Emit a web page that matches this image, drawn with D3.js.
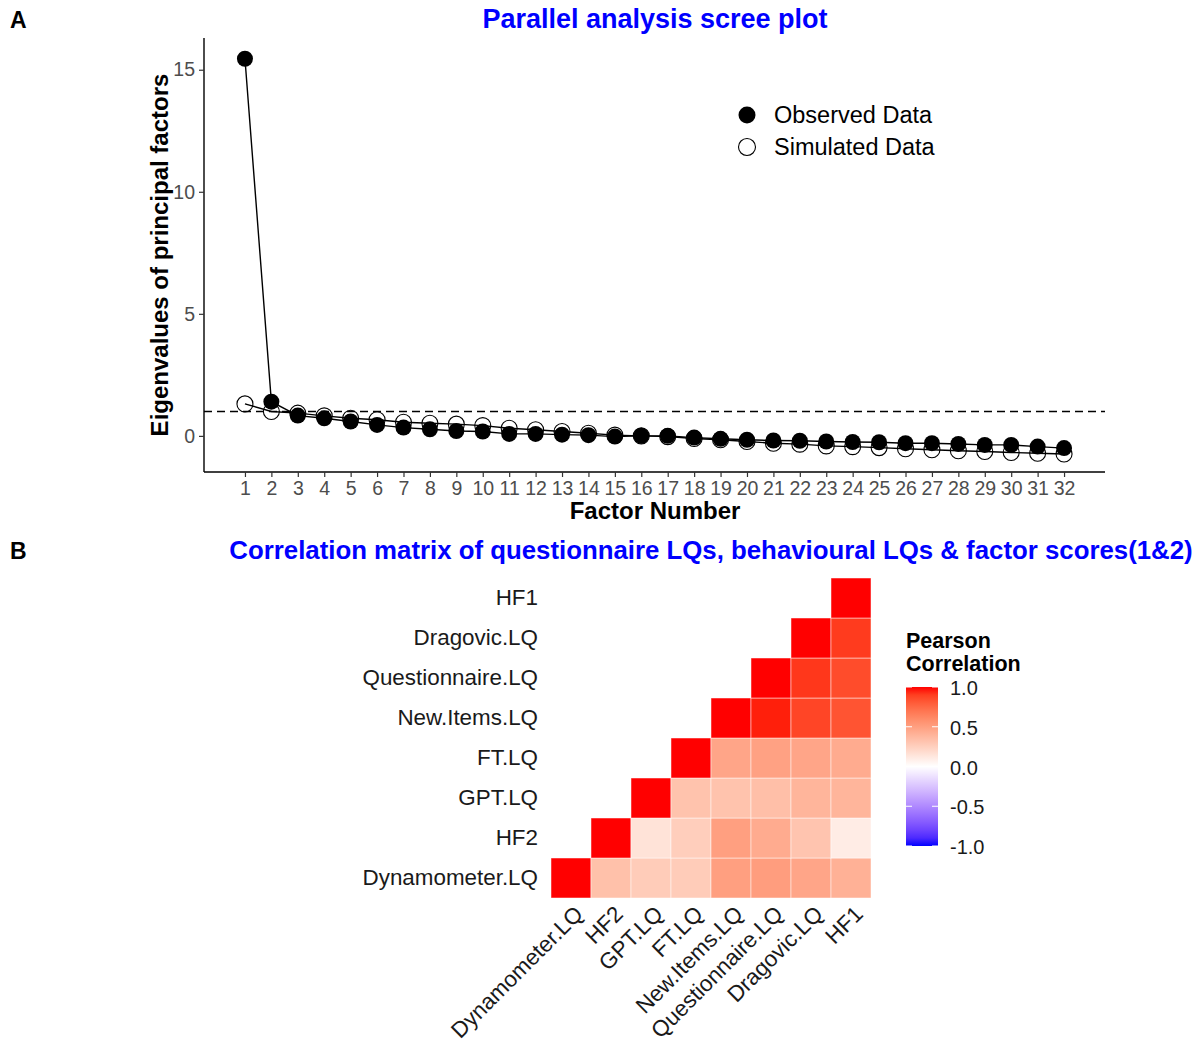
<!DOCTYPE html>
<html>
<head>
<meta charset="utf-8">
<script src="https://cdn.jsdelivr.net/npm/d3@7"></script>
<style>
  html, body { margin: 0; padding: 0; background: #fff; }
  text { font-family: "Liberation Sans", Arial, sans-serif; }
</style>
</head>
<body>
<svg id="chart" width="1197" height="1046"></svg>
<script>
// ---------------- Data ----------------
const factorNumbers = d3.range(1, 33);
const observedEigen = [15.45, 1.40, 0.83, 0.72, 0.59, 0.45, 0.34, 0.27, 0.20, 0.18, 0.08, 0.08, 0.05, 0.03, -0.03, 0.00,
                       0.00, -0.07, -0.12, -0.16, -0.19, -0.20, -0.23, -0.25, -0.26, -0.30, -0.30, -0.33, -0.37, -0.37, -0.44, -0.50];
const simulatedEigen = [1.31, 1.00, 0.93, 0.82, 0.72, 0.66, 0.56, 0.52, 0.48, 0.42, 0.31, 0.25, 0.18, 0.11, 0.03, 0.00,
                        -0.03, -0.11, -0.16, -0.23, -0.30, -0.34, -0.41, -0.44, -0.48, -0.53, -0.57, -0.61, -0.64, -0.68, -0.71, -0.74];
const yTicks = [0, 5, 10, 15];
const referenceLine = 1;

const variables = ["Dynamometer.LQ", "HF2", "GPT.LQ", "FT.LQ", "New.Items.LQ", "Questionnaire.LQ", "Dragovic.LQ", "HF1"];
// correlations: rows = variable i, columns = variable j (upper part used, j >= i)
const corrDynamometer = [1, 0.33, 0.27, 0.27, 0.50, 0.51, 0.47, 0.41];
const corrHF2         = [null, 1, 0.15, 0.26, 0.50, 0.44, 0.31, 0.10];
const corrGPT         = [null, null, 1, 0.32, 0.32, 0.34, 0.39, 0.39];
const corrFT          = [null, null, null, 1, 0.47, 0.49, 0.47, 0.44];
const corrNewItems    = [null, null, null, null, 1, 0.97, 0.88, 0.83];
const corrQuest       = [null, null, null, null, null, 1, 0.92, 0.86];
const corrDragovic    = [null, null, null, null, null, null, 1, 0.91];
const corrHF1         = [null, null, null, null, null, null, null, 1];
const corrRows = [corrDynamometer, corrHF2, corrGPT, corrFT, corrNewItems, corrQuest, corrDragovic, corrHF1];
const legendTicks = [1.0, 0.5, 0.0, -0.5, -1.0];
const legendTickLabels = ["1.0", "0.5", "0.0", "-0.5", "-1.0"];

// ---------------- Setup ----------------
const svg = d3.select("#chart");
svg.append("rect").attr("width", 1197).attr("height", 1046).attr("fill", "#fff");
const FONT = '"Liberation Sans", Arial, sans-serif';

// ================= Panel A =================
svg.append("text").attr("x", 10).attr("y", 28).attr("font-size", 23).attr("font-weight", "bold")
  .attr("fill", "#000").text("A");
svg.append("text").attr("x", 655).attr("y", 28).attr("text-anchor", "middle").attr("font-size", 27)
  .attr("font-weight", "bold").attr("fill", "#0000FF").text("Parallel analysis scree plot");

const xA = d3.scaleLinear().domain([-0.55, 33.55]).range([204, 1105]);
const yA = d3.scaleLinear().domain([-1.48, 16.3]).range([472, 38]);

const gA = svg.append("g");
// axes
const xAxisA = d3.axisBottom(xA).tickValues(factorNumbers).tickSize(5).tickPadding(4).tickFormat(d3.format("d"));
const yAxisA = d3.axisLeft(yA).tickValues(yTicks).tickSize(5).tickPadding(4);
const gx = gA.append("g").attr("transform", "translate(0,472)").call(xAxisA);
const gy = gA.append("g").attr("transform", "translate(204,0)").call(yAxisA);
[gx, gy].forEach(g => {
  g.select(".domain").attr("stroke", "#000").attr("stroke-width", 1.4);
  g.selectAll(".tick line").attr("stroke", "#333").attr("stroke-width", 1.2);
  g.selectAll(".tick text").attr("fill", "#4D4D4D").attr("font-size", 19.5).attr("font-family", FONT);
});
gx.select(".domain").attr("d", "M204,0H1105");
gy.select(".domain").attr("d", "M0,38V472");

// reference line
gA.append("line").attr("x1", 204).attr("x2", 1105).attr("y1", yA(referenceLine)).attr("y2", yA(referenceLine))
  .attr("stroke", "#000").attr("stroke-width", 1.5).attr("stroke-dasharray", "8,5");

const line = d3.line().x((d, i) => xA(factorNumbers[i])).y(d => yA(d));
// simulated
gA.append("path").datum(simulatedEigen).attr("d", line).attr("fill", "none").attr("stroke", "#000").attr("stroke-width", 1.4);
gA.selectAll("circle.sim").data(simulatedEigen).join("circle").attr("class", "sim")
  .attr("cx", (d, i) => xA(factorNumbers[i])).attr("cy", d => yA(d)).attr("r", 8)
  .attr("fill", "none").attr("stroke", "#000").attr("stroke-width", 1.1);
// observed
gA.append("path").datum(observedEigen).attr("d", line).attr("fill", "none").attr("stroke", "#000").attr("stroke-width", 1.4);
gA.selectAll("circle.obs").data(observedEigen).join("circle").attr("class", "obs")
  .attr("cx", (d, i) => xA(factorNumbers[i])).attr("cy", d => yA(d)).attr("r", 8)
  .attr("fill", "#000");

// axis titles
gA.append("text").attr("x", 655).attr("y", 519).attr("text-anchor", "middle").attr("font-size", 24)
  .attr("font-weight", "bold").text("Factor Number");
gA.append("text").attr("transform", "translate(168,255) rotate(-90)").attr("text-anchor", "middle")
  .attr("font-size", 24).attr("font-weight", "bold").text("Eigenvalues of principal factors");

// legend
const legA = gA.append("g");
legA.append("circle").attr("cx", 747).attr("cy", 115).attr("r", 8.5).attr("fill", "#000");
legA.append("circle").attr("cx", 747).attr("cy", 147).attr("r", 8.5).attr("fill", "none").attr("stroke", "#000").attr("stroke-width", 1.1);
legA.append("text").attr("x", 774).attr("y", 123).attr("font-size", 23.5).text("Observed Data");
legA.append("text").attr("x", 774).attr("y", 155).attr("font-size", 23.5).text("Simulated Data");

// ================= Panel B =================
svg.append("text").attr("x", 10).attr("y", 559).attr("font-size", 23).attr("font-weight", "bold")
  .attr("fill", "#000").text("B");
svg.append("text").attr("x", 711).attr("y", 559).attr("text-anchor", "middle").attr("font-size", 25.8)
  .attr("font-weight", "bold").attr("fill", "#0000FF")
  .text("Correlation matrix of questionnaire LQs, behavioural LQs & factor scores(1&2)");

const xB = d3.scaleBand().domain(variables).range([551, 871]);
const yB = d3.scaleBand().domain(variables).range([898, 578]);

const posInterp = d3.interpolateLab("#FFFFFF", "#FF0000");
const negInterp = d3.interpolateLab("#FFFFFF", "#0000FF");
const fillScale = v => v >= 0 ? posInterp(v) : negInterp(-v);

const cells = [];
corrRows.forEach((row, i) => row.forEach((v, j) => {
  if (v !== null) cells.push({ row: variables[i], col: variables[j], v });
}));
svg.append("g").selectAll("rect").data(cells).join("rect")
  .attr("x", d => xB(d.col)).attr("y", d => yB(d.row))
  .attr("width", xB.bandwidth()).attr("height", yB.bandwidth())
  .attr("fill", d => fillScale(d.v)).attr("stroke", "#FFFFFF").attr("stroke-opacity", 0.6).attr("stroke-width", 0.8);

const yAxisB = d3.axisLeft(yB).tickSize(0).tickPadding(13);
const gyB = svg.append("g").attr("transform", "translate(551,0)").call(yAxisB);
gyB.select(".domain").remove();
gyB.selectAll(".tick text").attr("font-size", 22.4).attr("fill", "#1A1A1A").attr("font-family", FONT);

const gxB = svg.append("g");
gxB.selectAll("text").data(variables).join("text")
  .attr("transform", d => `translate(${xB(d) + xB.bandwidth() / 2 + 2},${904}) rotate(-45)`)
  .attr("text-anchor", "end").attr("dy", "0.72em").attr("font-size", 22.4).attr("fill", "#1A1A1A").text(d => d);

// colour legend
const legB = svg.append("g");
legB.append("text").attr("x", 906).attr("y", 648).attr("font-size", 21.5).attr("font-weight", "bold").text("Pearson");
legB.append("text").attr("x", 906).attr("y", 671).attr("font-size", 21.5).attr("font-weight", "bold").text("Correlation");
const cbY = d3.scaleLinear().domain([-1, 1]).range([846, 687]);
const defs = svg.append("defs");
const grad = defs.append("linearGradient").attr("id", "cbgrad").attr("x1", 0).attr("x2", 0).attr("y1", 1).attr("y2", 0);
d3.range(0, 21).forEach(k => {
  const v = -1 + k * 0.1;
  grad.append("stop").attr("offset", (k / 20)).attr("stop-color", fillScale(v));
});
legB.append("rect").attr("x", 906).attr("y", cbY(1)).attr("width", 32).attr("height", cbY(-1) - cbY(1))
  .attr("fill", "url(#cbgrad)");
legendTicks.forEach(t => {
  legB.append("line").attr("x1", 906).attr("x2", 912).attr("y1", cbY(t)).attr("y2", cbY(t)).attr("stroke", "#fff").attr("stroke-width", 1);
  legB.append("line").attr("x1", 932).attr("x2", 938).attr("y1", cbY(t)).attr("y2", cbY(t)).attr("stroke", "#fff").attr("stroke-width", 1);
});
legB.selectAll("text.lt").data(legendTicks).join("text").attr("class", "lt")
  .attr("x", 950).attr("y", d => cbY(d)).attr("dy", "0.4em").attr("font-size", 20).attr("fill", "#1A1A1A")
  .text((d, i) => legendTickLabels[i]);
</script>
</body>
</html>
